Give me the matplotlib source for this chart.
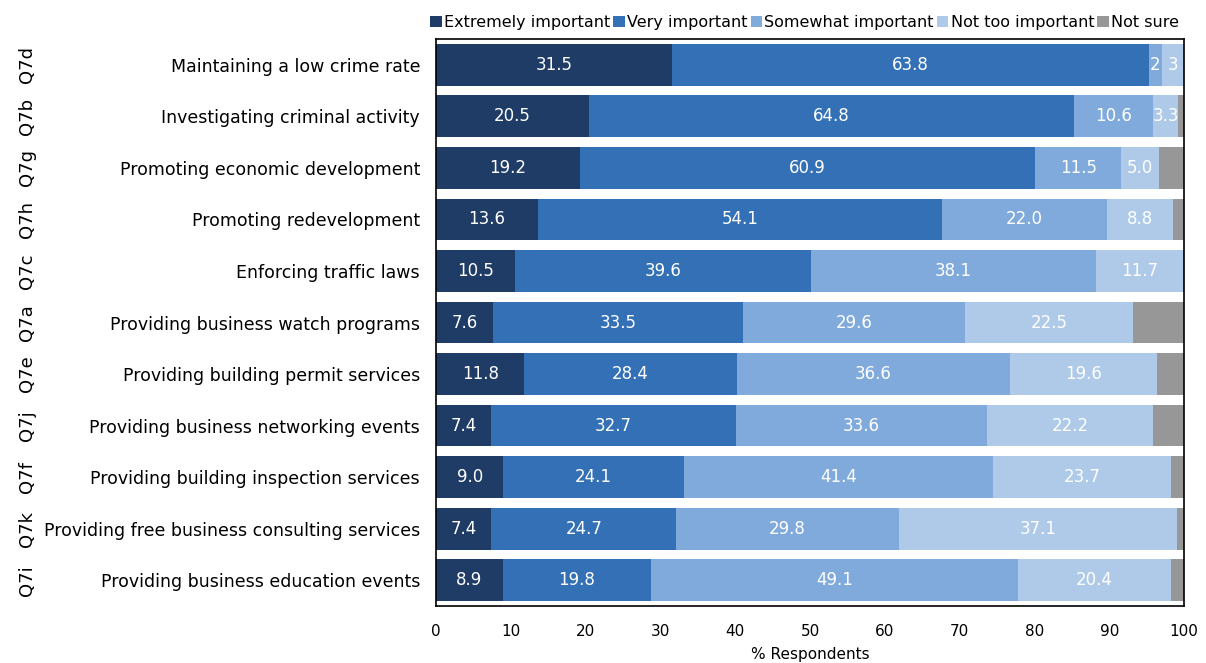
import matplotlib
matplotlib.use("Agg")
import matplotlib.pyplot as plt
import matplotlib.transforms as mtransforms
import numpy as np

codes = ["Q7d", "Q7b", "Q7g", "Q7h", "Q7c", "Q7a", "Q7e", "Q7j", "Q7f", "Q7k", "Q7i"]
items = [
    "Maintaining a low crime rate",
    "Investigating criminal activity",
    "Promoting economic development",
    "Promoting redevelopment",
    "Enforcing traffic laws",
    "Providing business watch programs",
    "Providing building permit services",
    "Providing business networking events",
    "Providing building inspection services",
    "Providing free business consulting services",
    "Providing business education events",
]
series_names = ["Extremely important", "Very important", "Somewhat important",
                "Not too important", "Not sure"]
extremely = [31.5, 20.5, 19.2, 13.6, 10.5, 7.6, 11.8, 7.4, 9.0, 7.4, 8.9]
very = [63.8, 64.8, 60.9, 54.1, 39.6, 33.5, 28.4, 32.7, 24.1, 24.7, 19.8]
somewhat = [1.7, 10.6, 11.5, 22.0, 38.1, 29.6, 36.6, 33.6, 41.4, 29.8, 49.1]
not_too = [3.0, 3.3, 5.0, 8.8, 11.7, 22.5, 19.6, 22.2, 23.7, 37.1, 20.4]
not_sure = [0.0, 0.8, 3.4, 1.5, 0.1, 6.8, 3.6, 4.1, 1.8, 1.0, 1.8]
x_ticks = [0, 10, 20, 30, 40, 50, 60, 70, 80, 90, 100]

colors = ["#1f3c66", "#3370b6", "#80aadc", "#aecae8", "#979797"]
font = "DejaVu Sans"

fig = plt.figure(figsize=(12.06, 6.63), dpi=100)
ax = fig.add_axes([436 / 1206, 1 - 606 / 663, 748 / 1206, 567 / 663])

y = np.arange(len(items))
left = np.zeros(len(items))
all_series = [extremely, very, somewhat, not_too, not_sure]
for idx, (vals, name, col) in enumerate(zip(all_series, series_names, colors)):
    vals = np.array(vals)
    ax.barh(y, vals, left=left, height=0.81, color=col, label=name, linewidth=0)
    if idx < 4:
        for yi, (l, v) in enumerate(zip(left, vals)):
            txt = f"{v:.0f}" if v <= 3.0 else f"{v:.1f}"
            ax.text(l + v / 2, yi, txt, ha="center", va="center", color="white",
                    fontsize=12, family=font)
    left += vals

ax.set_xlim(0, 100)
ax.set_ylim(len(items) - 0.5, -0.5)
ax.set_yticks(y)
ax.set_yticklabels(items, fontsize=12.5, family=font)
ax.set_xticks(x_ticks)
ax.set_xticklabels([str(t) for t in x_ticks], fontsize=11, family=font)
ax.tick_params(axis="both", length=0)
ax.tick_params(axis="x", pad=13)
ax.tick_params(axis="y", pad=11.5)
ax.set_xlabel("% Respondents", fontsize=11, family=font, labelpad=6)
for sp in ax.spines.values():
    sp.set_linewidth(1.2)
    sp.set_color("black")

trans = mtransforms.blended_transform_factory(fig.transFigure, ax.transData)
for yi, code in enumerate(codes):
    fig.text(27 / 1206, yi, code, transform=trans, rotation=90, ha="center",
             va="center", fontsize=13, family=font)

ax.legend(loc="lower right", bbox_to_anchor=(1.005, 1.0), ncol=5, frameon=False,
          handlelength=0.7, handleheight=0.7, handletextpad=0.15,
          columnspacing=0.2, borderaxespad=0.45, borderpad=0.1,
          prop={"family": font, "size": 11.5})

fig.savefig("out.png", dpi=100)
